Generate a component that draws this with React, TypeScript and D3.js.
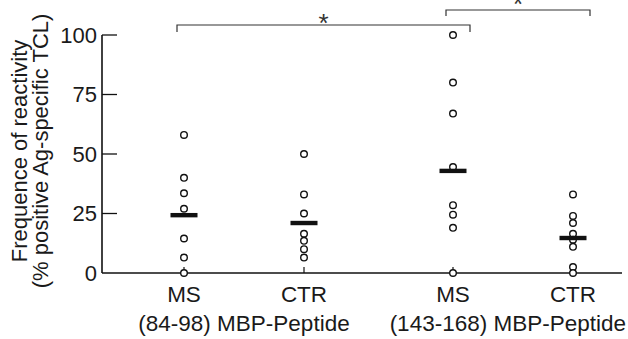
import React from 'react';
import * as d3 from 'd3';

const groups = ['(84-98) MBP-Peptide', '(143-168) MBP-Peptide'];
const subgroups = ['MS', 'CTR'];
const yTicks = [0, 25, 50, 75, 100];

// individual TCL reactivity values per group/subgroup
const ms84 = [58, 40, 33.5, 27, 14.5, 6.5, 0];
const ctr84 = [50, 33, 25, 16.5, 13.5, 10, 6.5];
const ms143 = [100, 80, 67, 44.5, 28.5, 24.5, 19, 0];
const ctr143 = [33, 24, 21, 16.5, 14, 11, 2.5, 0];
const means = [24.3, 21, 42.9, 14.7];

const series = [
  { group: groups[0], sub: 'MS', values: ms84, mean: means[0] },
  { group: groups[0], sub: 'CTR', values: ctr84, mean: means[1] },
  { group: groups[1], sub: 'MS', values: ms143, mean: means[2] },
  { group: groups[1], sub: 'CTR', values: ctr143, mean: means[3] },
];

const W = 628;
const H = 339;
const font = '"Liberation Sans", Arial, Helvetica, sans-serif';

export default function App() {
  const y = d3.scaleLinear().domain([0, 100]).range([273, 35]);
  const gx = d3.scalePoint<string>().domain(groups).range([244, 513]);
  const sx = d3.scalePoint<string>().domain(subgroups).range([-60, 60]);
  const xPos = (g: string, s: string) => (gx(g) || 0) + (sx(s) || 0);

  const axisLeft = 102;
  const axisRight = 622;
  const base = y(0);

  // significance brackets between series
  const brackets = [
    { a: 0, b: 2, yTop: 25, drop: 7, starY: 32 },
    { a: 2, b: 3, yTop: 10, drop: 6, starY: 13 },
  ];

  return (
    <svg width={W} height={H} style={{ position: 'absolute', left: 0, top: 0, background: '#fff' }} fontFamily={font}>
      {/* y title */}
      <g transform={`translate(0,${151}) rotate(-90)`}>
        <text x={0} y={27} textAnchor="middle" fontSize={22} fill="#1a1a1a">Frequence of reactivity</text>
        <text x={0} y={48} textAnchor="middle" fontSize={22} fill="#1a1a1a">(% positive Ag-specific TCL)</text>
      </g>

      {/* y axis */}
      <line x1={axisLeft} x2={axisLeft} y1={y(100)} y2={base} stroke="#111" strokeWidth={1.6} />
      {yTicks.map(t => (
        <g key={t}>
          {t > 0 && <line x1={axisLeft} x2={axisLeft + 15} y1={y(t)} y2={y(t)} stroke="#111" strokeWidth={1.3} />}
          <text x={axisLeft - 5} y={y(t)} dy="0.36em" textAnchor="end" fontSize={22} fill="#1a1a1a">{t}</text>
        </g>
      ))}

      {/* x axis */}
      <line x1={axisLeft} x2={axisRight} y1={base} y2={base} stroke="#111" strokeWidth={1.6} />
      {series.map((s, i) => {
        const cx = xPos(s.group, s.sub);
        return (
          <g key={i}>
            <line x1={cx} x2={cx} y1={base - 6} y2={base} stroke="#111" strokeWidth={1.2} />
            <text x={cx} y={302} textAnchor="middle" fontSize={22.5} fill="#1a1a1a">{s.sub}</text>
          </g>
        );
      })}
      {groups.map((g, i) => {
        // last label is pushed in from the right edge, like in the figure
        const last = i === groups.length - 1;
        return (
          <text key={g} x={last ? axisRight + 4 : gx(g)} y={331}
            textAnchor={last ? 'end' : 'middle'} fontSize={22.5} fill="#1a1a1a">{g}</text>
        );
      })}

      {/* points and mean bars */}
      {series.map((s, i) => {
        const cx = xPos(s.group, s.sub);
        return (
          <g key={'p' + i}>
            {s.values.map((v, j) => (
              <circle key={j} cx={cx} cy={y(v)} r={3.3} fill="#fff" stroke="#111" strokeWidth={1.4} />
            ))}
            <rect x={cx - 13.5} y={y(s.mean) - 2.2} width={27} height={4.4} fill="#111" />
          </g>
        );
      })}

      {/* brackets */}
      {brackets.map((b, i) => {
        const x1 = xPos(series[b.a].group, series[b.a].sub) - 7;
        const x2 = xPos(series[b.b].group, series[b.b].sub) + 17;
        const path = d3.path();
        path.moveTo(x1, b.yTop + b.drop);
        path.lineTo(x1, b.yTop);
        path.lineTo(x2, b.yTop);
        path.lineTo(x2, b.yTop + b.drop);
        return (
          <g key={'b' + i}>
            <path d={path.toString()} fill="none" stroke="#333" strokeWidth={1.2} />
            <text x={(x1 + x2) / 2} y={b.starY} textAnchor="middle" fontSize={26} fill="#333">*</text>
          </g>
        );
      })}
    </svg>
  );
}
